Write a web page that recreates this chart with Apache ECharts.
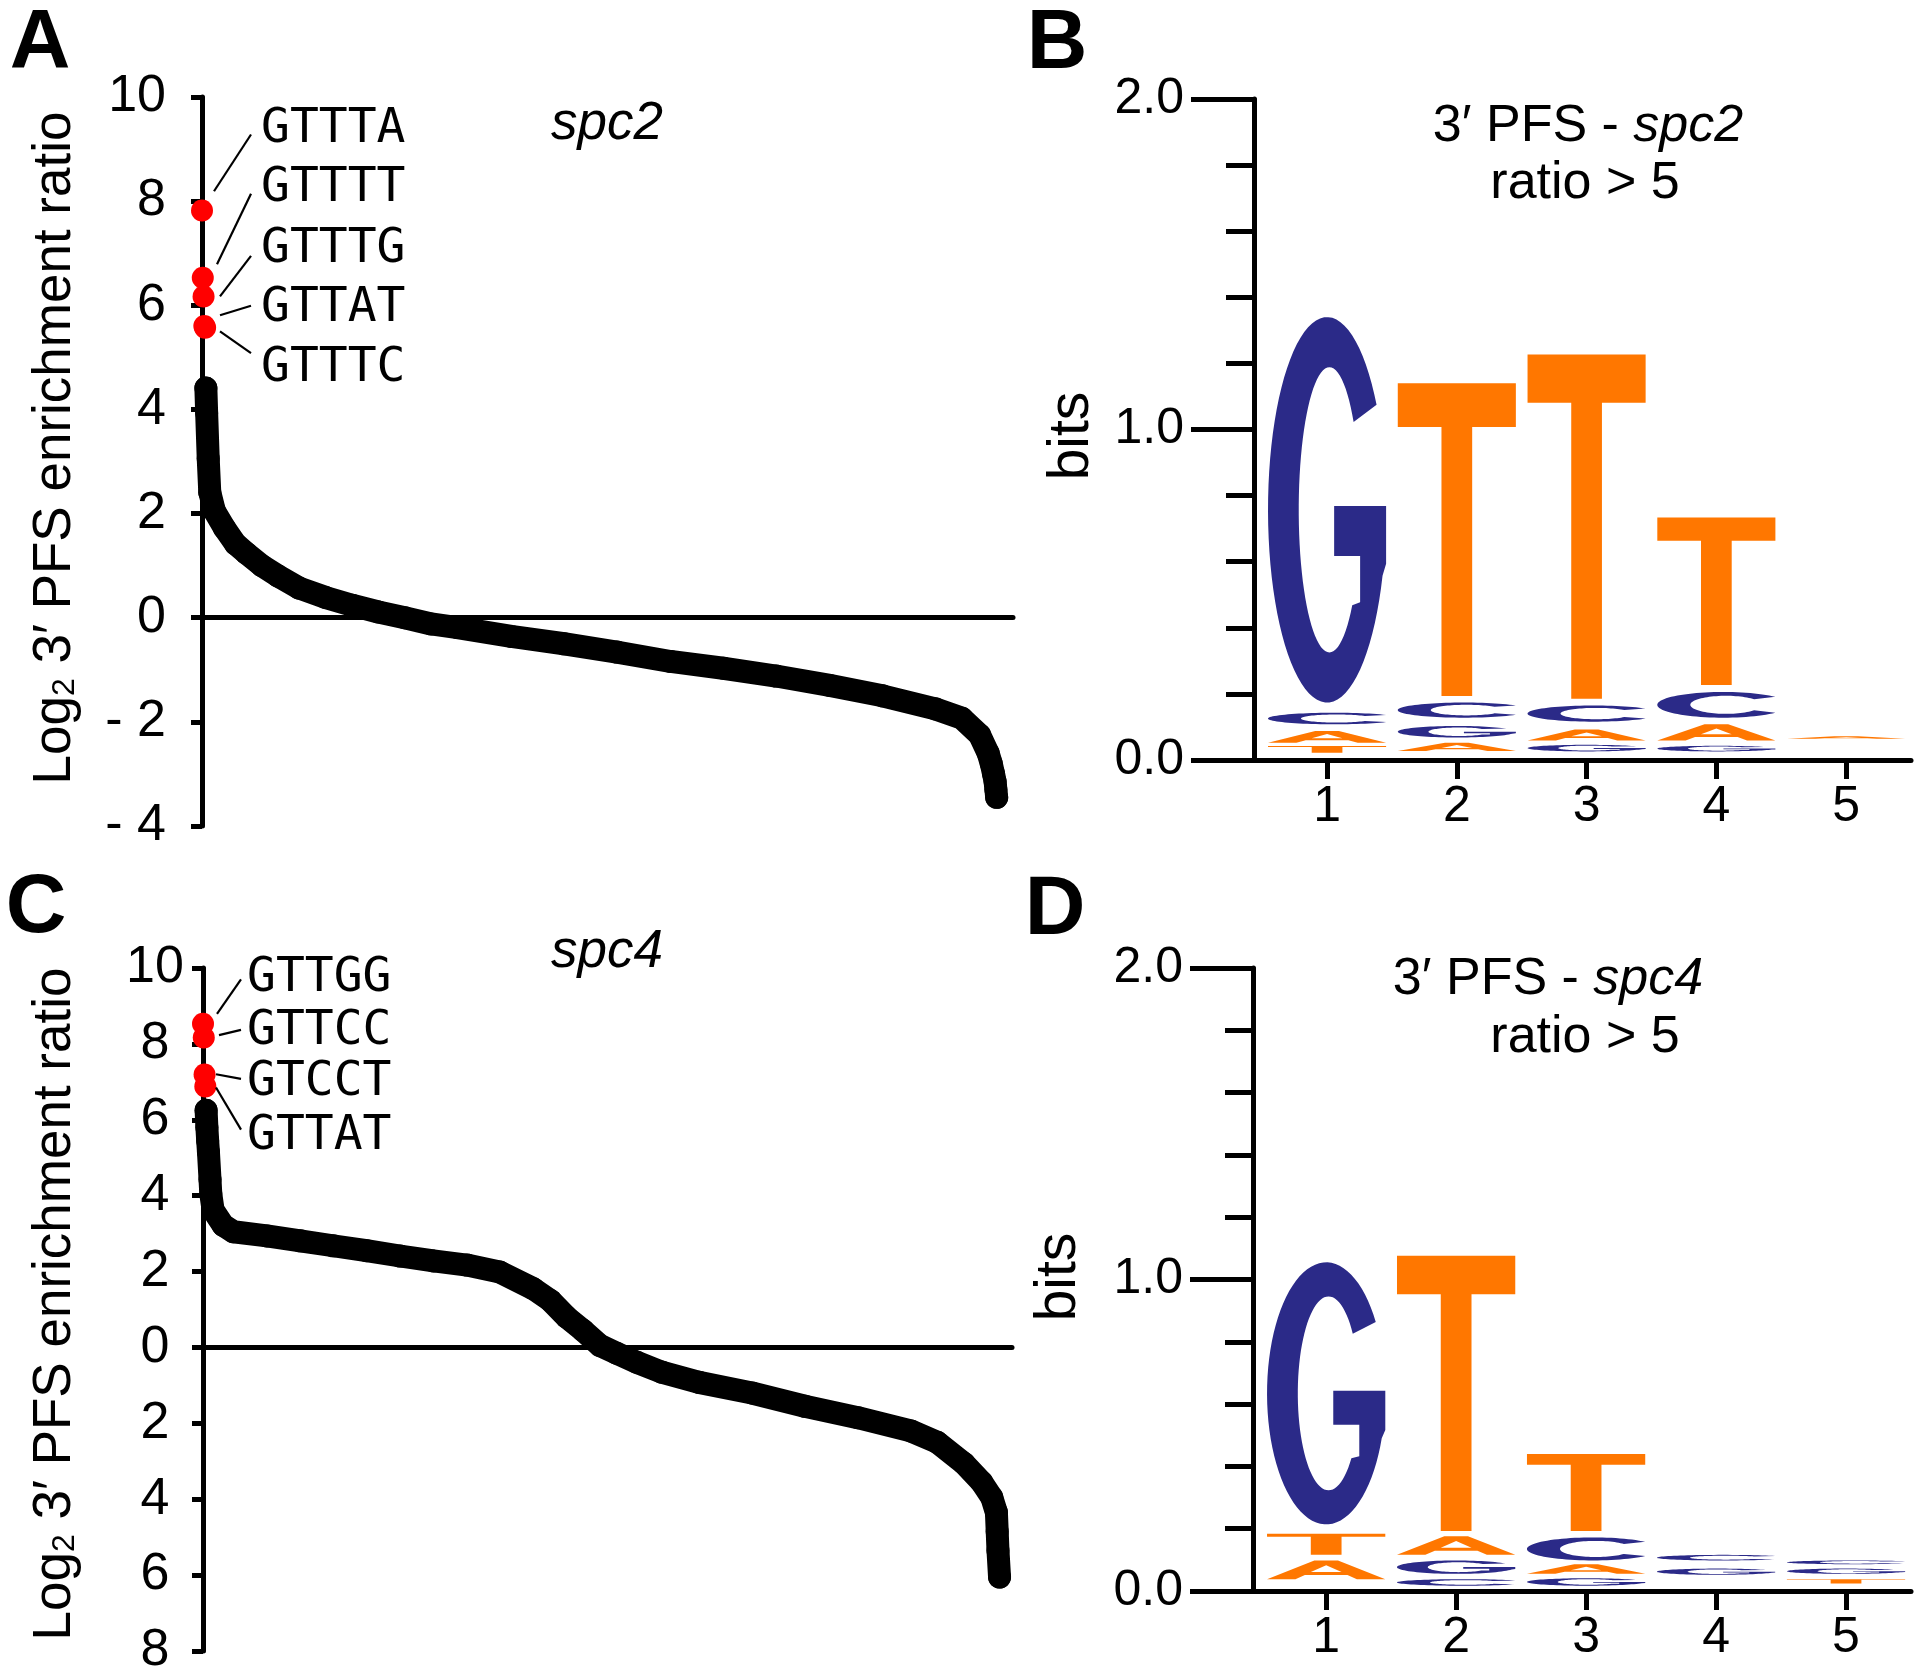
<!DOCTYPE html>
<html><head><meta charset="utf-8">
<script src="https://cdn.jsdelivr.net/npm/echarts@6/dist/echarts.min.js"></script>
<style>html,body{margin:0;padding:0;background:#fff}#c{width:1920px;height:1676px}</style>
</head><body><div id="c"></div>
<script>
// ---------------- DATA ----------------
// Panel A (spc2): ranked log2 enrichment ratio (rank index 0..1023)
const redRankA = [0, 1, 2, 3, 4];
const redValA = [7.82, 6.53, 6.17, 5.60, 5.57];
const rankA = [5, 6, 8, 10, 16, 29, 43, 57, 77, 98, 125, 159, 193, 227, 261, 295, 329, 398, 466, 534, 603, 671, 739, 808, 876, 944, 978, 1001, 1012, 1016, 1019, 1021, 1022, 1023];
const valA = [4.41, 3.93, 3.06, 2.41, 2.05, 1.72, 1.42, 1.24, 1.00, 0.80, 0.57, 0.39, 0.24, 0.11, 0.00, -0.12, -0.19, -0.36, -0.50, -0.66, -0.84, -0.97, -1.12, -1.30, -1.50, -1.75, -1.93, -2.25, -2.60, -2.80, -3.00, -3.15, -3.30, -3.45];
const seqA = ['GTTTA', 'GTTTT', 'GTTTG', 'GTTAT', 'GTTTC'];
const seqYA = [9.46, 8.31, 7.15, 6.01, 4.87];
const leadFromA = [8.19, 6.79, 6.17, 5.81, 5.50];
const leadToA = [9.28, 8.14, 6.95, 5.99, 5.08];

// Panel C (spc4)
const redRankC = [0, 1, 2, 3];
const redValC = [8.53, 8.17, 7.19, 6.88];
const rankC = [4, 5, 6, 7, 9, 10, 13, 26, 39, 82, 125, 167, 210, 253, 296, 339, 381, 424, 446, 467, 488, 510, 531, 557, 589, 637, 705, 773, 841, 909, 943, 977, 1000, 1013, 1019, 1020, 1021, 1023];
const valC = [6.25, 5.80, 5.45, 5.15, 4.43, 4.05, 3.62, 3.22, 3.05, 2.94, 2.81, 2.68, 2.55, 2.41, 2.28, 2.17, 1.99, 1.55, 1.24, 0.80, 0.45, 0.05, -0.15, -0.39, -0.65, -0.92, -1.20, -1.55, -1.85, -2.20, -2.50, -3.05, -3.55, -3.95, -4.35, -4.85, -5.35, -6.05];
const seqC = ['GTTGG', 'GTTCC', 'GTCCT', 'GTTAT'];
const seqYC = [9.84, 8.44, 7.08, 5.67];
const leadFromC = [8.79, 8.23, 7.20, 6.85];
const leadToC = [9.70, 8.37, 7.08, 5.74];

// Panel B logo (bits): position, letter, bottom, top
const posB  = [1, 1, 1, 1, 2, 2, 2, 2, 3, 3, 3, 3, 4, 4, 4, 4, 5];
const letB  = ['T', 'A', 'C', 'G', 'A', 'G', 'C', 'T', 'G', 'A', 'C', 'T', 'G', 'A', 'C', 'T', 'A'];
const lowB  = [0.022, 0.052, 0.108, 0.174, 0.027, 0.068, 0.128, 0.194, 0.026, 0.059, 0.116, 0.185, 0.026, 0.059, 0.128, 0.227, 0.064];
const highB = [0.042, 0.088, 0.143, 1.340, 0.052, 0.103, 0.174, 1.140, 0.046, 0.092, 0.165, 1.227, 0.043, 0.108, 0.206, 0.734, 0.072];

// Panel D logo
const posD  = [1, 1, 1, 2, 2, 2, 2, 3, 3, 3, 3, 4, 4, 5, 5, 5];
const letD  = ['A', 'T', 'G', 'C', 'G', 'A', 'T', 'G', 'A', 'C', 'T', 'G', 'C', 'T', 'G', 'C'];
const lowD  = [0.038, 0.116, 0.214, 0.017, 0.055, 0.116, 0.193, 0.017, 0.055, 0.098, 0.193, 0.052, 0.098, 0.024, 0.055, 0.086];
const highD = [0.098, 0.184, 1.055, 0.038, 0.098, 0.176, 1.076, 0.041, 0.086, 0.172, 0.440, 0.072, 0.116, 0.038, 0.072, 0.098];

const logoTicks = [1, 2, 3, 4, 5];

// ---------------- GLYPHS ----------------
const F = '"Liberation Sans", Arial, sans-serif';
const MONO = '"DejaVu Sans Mono", monospace';
const BLUE = '#2b2a88', ORANGE = '#ff7700';
const LETTERS = 'ACGT';
const LCOLOR = {A: ORANGE, T: ORANGE, C: BLUE, G: BLUE};

function arc(cx, cy, rx, ry, a0, a1) {
  const pts = []; const n = Math.max(4, Math.ceil(Math.abs(a1 - a0) / 4));
  for (let k = 0; k <= n; k++) {
    const a = (a0 + (a1 - a0) * k / n) * Math.PI / 180;
    pts.push([cx + rx * Math.cos(a), cy - ry * Math.sin(a)]);
  }
  return pts;
}
function poly(pts) { return 'M' + pts.map(p => p[0].toFixed(2) + ',' + p[1].toFixed(2)).join('L') + 'Z'; }
const GLYPH = {
  T: 'M0,0L100,0L100,14L63,14L63,100L37,100L37,14L0,14Z',
  A: 'M0,100L40,0L60,0L100,100L76,100L68,78L32,78L24,100Z M37,62L63,62L50,26Z',
  C: poly(arc(50, 50, 50, 50, 38, 322).concat(arc(52, 50, 27, 35, 322, 38))),
  G: poly(arc(50, 50, 50, 50, 33, 340).concat([[100, 64], [100, 49], [56, 49], [56, 62], [78, 62], [78, 74]]).concat(arc(52, 50, 26, 37, -42, -322)))
};

function logoRender(params, api) {
  const pos = api.value(0), lo = api.value(1), hi = api.value(2), li = api.value(3);
  const L = LETTERS[li];
  const p1 = api.coord([pos - 0.455, hi]);
  const p2 = api.coord([pos + 0.455, lo]);
  return {
    type: 'path',
    shape: {pathData: GLYPH[L], x: p1[0], y: p1[1], width: p2[0] - p1[0], height: Math.max(p2[1] - p1[1], 0.8), layout: 'cover'},
    style: {fill: LCOLOR[L]}
  };
}

function leaderRender(names, startOff, endOff, labelOff) {
  return function (params, api) {
    const i = params.dataIndex;
    const x0 = api.coord([0, 0])[0];
    const ya = api.coord([0, api.value(0)])[1];
    const yb = api.coord([0, api.value(1)])[1];
    const yl = api.coord([0, api.value(2)])[1];
    return {type: 'group', children: [
      {type: 'line', shape: {x1: x0 + startOff[i], y1: ya, x2: x0 + endOff, y2: yb}, style: {stroke: '#000', lineWidth: 2.2}},
      {type: 'text', x: x0 + labelOff, y: yl + 4, style: {text: names[i], fontSize: 48, fontFamily: MONO, fill: '#000', align: 'left', verticalAlign: 'middle'}}
    ]};
  };
}

const axisBlack = {color: '#000', width: 5};
function scatterYAxis(gi, min, fmt, align, margin) {
  return {gridIndex: gi, type: 'value', min: min, max: 10, interval: 2,
    axisLine: {show: true, onZero: false, lineStyle: axisBlack},
    axisTick: {show: true, length: 11, lineStyle: axisBlack},
    axisLabel: {fontSize: 52, fontFamily: F, color: '#000', margin: margin, align: align, formatter: fmt},
    splitLine: {show: false}};
}
function scatterXAxis(gi, max) {
  return {gridIndex: gi, type: 'value', min: 0, max: max,
    axisLine: {show: true, onZero: true, lineStyle: axisBlack},
    axisTick: {show: false}, axisLabel: {show: false}, splitLine: {show: false}};
}
function logoYAxis(gi) {
  return {gridIndex: gi, type: 'value', min: 0, max: 2, interval: 1,
    axisLine: {show: true, onZero: false, lineStyle: axisBlack},
    axisTick: {show: true, length: 63, lineStyle: axisBlack},
    minorTick: {show: true, splitNumber: 5, length: 28, lineStyle: axisBlack},
    axisLabel: {fontSize: 50, fontFamily: F, color: '#000', margin: 70, formatter: v => v.toFixed(1)},
    splitLine: {show: false}, minorSplitLine: {show: false}};
}
function logoXAxis(gi) {
  return {gridIndex: gi, type: 'value', min: 0.437, max: 5.5,
    axisLine: {show: true, onZero: false, lineStyle: axisBlack},
    axisTick: {show: true, length: 19, lineStyle: axisBlack, customValues: logoTicks},
    axisLabel: {fontSize: 50, fontFamily: F, color: '#000', margin: 22, customValues: logoTicks, formatter: v => String(v)},
    splitLine: {show: false}};
}

function txt(x, y, text, font, rot) {
  return {type: 'text', x: x, y: y, rotation: rot || 0,
    style: {text: text, font: font, fill: '#000', align: 'center', verticalAlign: 'middle'}};
}
function richTxt(x, y, text, rich, rot) {
  return {type: 'text', x: x, y: y, rotation: rot || 0,
    style: {text: text, rich: rich, fill: '#000', align: 'center', verticalAlign: 'middle'}};
}
const titleRich = {
  m: {fontSize: 53, fontFamily: F, fill: '#000'},
  s: {fontSize: 32, fontFamily: F, fill: '#000', verticalAlign: 'bottom', lineHeight: 24}
};
const pfsRich = {
  n: {fontSize: 52, fontFamily: F, fill: '#000'},
  i: {fontSize: 52, fontFamily: F, fontStyle: 'italic', fill: '#000'}
};

const lineBand = {symbol: 'circle', symbolSize: 23, showSymbol: true, showAllSymbol: true,
  lineStyle: {color: '#000', width: 23, cap: 'round', join: 'round'}, itemStyle: {color: '#000'}, z: 2, silent: true};

const chart = echarts.init(document.getElementById('c'), null, {renderer: 'canvas'});
chart.setOption({
  animation: false,
  backgroundColor: '#fff',
  grid: [
    {left: 202, top: 97, width: 811, height: 729, containLabel: false, outerBoundsMode: 'none'},
    {left: 1254, top: 99, width: 657, height: 661, containLabel: false, outerBoundsMode: 'none'},
    {left: 203, top: 968, width: 809, height: 683, containLabel: false, outerBoundsMode: 'none'},
    {left: 1253, top: 968, width: 658, height: 623, containLabel: false, outerBoundsMode: 'none'}
  ],
  xAxis: [scatterXAxis(0, 1044), logoXAxis(1), scatterXAxis(2, 1039), logoXAxis(3)],
  yAxis: [
    scatterYAxis(0, -4, v => v < 0 ? '- ' + (-v) : String(v), 'right', 36),
    logoYAxis(1),
    scatterYAxis(2, -8, v => String(Math.abs(v)), 'center', 48),
    logoYAxis(3)
  ],
  series: [
    Object.assign({type: 'line', xAxisIndex: 0, yAxisIndex: 0, data: rankA.map((r, i) => [r, valA[i]])}, lineBand),
    {type: 'scatter', xAxisIndex: 0, yAxisIndex: 0, data: redRankA.map((r, i) => [r, redValA[i]]),
      symbolSize: 22, itemStyle: {color: '#ff0000', opacity: 1}, z: 5, silent: true},
    {type: 'custom', xAxisIndex: 0, yAxisIndex: 0, z: 6, silent: true,
      data: seqA.map((s, i) => [leadFromA[i], leadToA[i], seqYA[i]]),
      renderItem: leaderRender(seqA, [12, 15, 18, 18, 18], 49, 59)},
    {type: 'custom', xAxisIndex: 1, yAxisIndex: 1, z: 3, silent: true,
      data: posB.map((p, i) => [p, lowB[i], highB[i], LETTERS.indexOf(letB[i])]),
      renderItem: logoRender},
    Object.assign({type: 'line', xAxisIndex: 2, yAxisIndex: 2, data: rankC.map((r, i) => [r, valC[i]])}, lineBand),
    {type: 'scatter', xAxisIndex: 2, yAxisIndex: 2, data: redRankC.map((r, i) => [r, redValC[i]]),
      symbolSize: 22, itemStyle: {color: '#ff0000', opacity: 1}, z: 5, silent: true},
    {type: 'custom', xAxisIndex: 2, yAxisIndex: 2, z: 6, silent: true,
      data: seqC.map((s, i) => [leadFromC[i], leadToC[i], seqYC[i]]),
      renderItem: leaderRender(seqC, [14, 16, 13, 13], 38, 44)},
    {type: 'custom', xAxisIndex: 3, yAxisIndex: 3, z: 3, silent: true,
      data: posD.map((p, i) => [p, lowD[i], highD[i], LETTERS.indexOf(letD[i])]),
      renderItem: logoRender}
  ],
  graphic: [
    txt(40, 45, 'A', 'bold 84px ' + F),
    txt(1057, 45, 'B', 'bold 84px ' + F),
    txt(36, 909, 'C', 'bold 84px ' + F),
    txt(1055, 911, 'D', 'bold 84px ' + F),
    richTxt(55, 448, '{m|Log}{s|2}{m| 3′ PFS enrichment ratio}', titleRich, Math.PI / 2),
    richTxt(55, 1304, '{m|Log}{s|2}{m| 3′ PFS enrichment ratio}', titleRich, Math.PI / 2),
    txt(607, 124, 'spc2', 'italic 53px ' + F),
    txt(607, 952, 'spc4', 'italic 53px ' + F),
    richTxt(1588, 127, '{n|3′ PFS - }{i|spc2}', pfsRich),
    txt(1585, 184, 'ratio > 5', '52px ' + F),
    richTxt(1548, 980, '{n|3′ PFS - }{i|spc4}', pfsRich),
    txt(1585, 1038, 'ratio > 5', '52px ' + F),
    txt(1072, 436, 'bits', '57px ' + F, Math.PI / 2),
    txt(1059, 1277, 'bits', '57px ' + F, Math.PI / 2)
  ]
});
</script></body></html>
